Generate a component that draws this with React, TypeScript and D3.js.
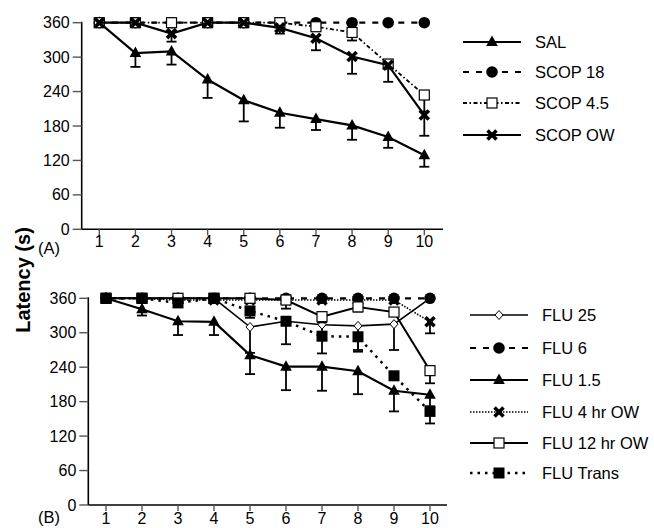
import React from 'react';
import * as d3 from 'd3';

// days on the x axis and y ticks
const days = [1, 2, 3, 4, 5, 6, 7, 8, 9, 10];
const yTicks = [0, 60, 120, 180, 240, 300, 360];

// panel A: means and lower end of error bars
const sal = [360, 307, 310, 261, 225, 203, 192, 181, 161, 129];
const salErr = [360, 283, 287, 229, 188, 177, 173, 156, 142, 109];
const scop18 = [360, 360, 360, 360, 360, 360, 360, 360, 360, 360];
const scop18Err = [360, 360, 360, 360, 360, 360, 360, 360, 360, 360];
const scop45 = [360, 360, 360, 360, 360, 360, 353, 343, 288, 234];
const scop45Err = [360, 360, 360, 360, 360, 360, 353, 329, 288, 205];
const scopOW = [360, 360, 341, 360, 360, 351, 333, 301, 286, 199];
const scopOWErr = [360, 360, 327, 360, 360, 341, 312, 271, 257, 163];

// panel B
const flu25 = [360, 360, 360, 360, 310, 320, 314, 312, 315, 360];
const flu25Err = [360, 360, 360, 360, 265, 320, 297, 270, 270, 360];
const flu6 = [360, 360, 360, 360, 360, 360, 360, 360, 360, 360];
const flu6Err = [360, 360, 360, 360, 360, 360, 360, 360, 360, 360];
const flu15 = [360, 341, 320, 319, 261, 241, 241, 233, 199, 192];
const flu15Err = [360, 330, 296, 296, 228, 200, 199, 193, 163, 172];
const flu4 = [360, 360, 357, 357, 357, 357, 357, 357, 357, 319];
const flu4Err = [360, 360, 357, 357, 357, 350, 357, 357, 357, 299];
const flu12 = [360, 360, 360, 360, 360, 357, 328, 345, 336, 234];
const flu12Err = [360, 360, 360, 360, 360, 342, 318, 337, 336, 212];
const fluTrans = [360, 360, 352, 360, 338, 320, 294, 293, 225, 163];
const fluTransErr = [360, 360, 352, 360, 326, 280, 264, 267, 225, 142];

type Marker = 'tri' | 'circle' | 'osq' | 'fsq' | 'x' | 'diamond';
type Series = {
  name: string;
  values: number[];
  err: number[];
  marker: Marker;
  dash: string;
  width: number;
};

const seriesA: Series[] = [
  { name: 'SAL', values: sal, err: salErr, marker: 'tri', dash: '', width: 2.2 },
  { name: 'SCOP 18', values: scop18, err: scop18Err, marker: 'circle', dash: '6,7', width: 2.2 },
  { name: 'SCOP 4.5', values: scop45, err: scop45Err, marker: 'osq', dash: '4,2.5,1.5,2.5', width: 1.8 },
  { name: 'SCOP OW', values: scopOW, err: scopOWErr, marker: 'x', dash: '', width: 2.2 },
];
const legendA = ['SAL', 'SCOP 18', 'SCOP 4.5', 'SCOP OW'];

// drawing order (later ones sit on top)
const seriesB: Series[] = [
  { name: 'FLU 25', values: flu25, err: flu25Err, marker: 'diamond', dash: '', width: 1.6 },
  { name: 'FLU 6', values: flu6, err: flu6Err, marker: 'circle', dash: '6,7', width: 2.2 },
  { name: 'FLU 4 hr OW', values: flu4, err: flu4Err, marker: 'x', dash: '1.5,1.5', width: 1.6 },
  { name: 'FLU 12 hr OW', values: flu12, err: flu12Err, marker: 'osq', dash: '', width: 2 },
  { name: 'FLU 1.5', values: flu15, err: flu15Err, marker: 'tri', dash: '', width: 2.2 },
  { name: 'FLU Trans', values: fluTrans, err: fluTransErr, marker: 'fsq', dash: '2.5,5', width: 2.5 },
];
const legendB = ['FLU 25', 'FLU 6', 'FLU 1.5', 'FLU 4 hr OW', 'FLU 12 hr OW', 'FLU Trans'];

const font = 'Liberation Sans, Arial, Helvetica, sans-serif';

function Mark({ type, x, y }: { type: Marker; x: number; y: number }) {
  switch (type) {
    case 'tri':
      return <path d={`M${x},${y - 6.5}L${x + 5.8},${y + 4}L${x - 5.8},${y + 4}Z`} fill="#000" />;
    case 'circle':
      return <circle cx={x} cy={y} r={5.8} fill="#000" />;
    case 'osq':
      return <rect x={x - 5} y={y - 5} width={10} height={10} fill="#fff" stroke="#000" strokeWidth={1.2} />;
    case 'fsq':
      return <rect x={x - 5.5} y={y - 5.5} width={11} height={11} fill="#000" />;
    case 'x':
      return (
        <g stroke="#000" strokeWidth={3.6}>
          <line x1={x - 4.5} y1={y - 4.5} x2={x + 4.5} y2={y + 4.5} />
          <line x1={x - 4.5} y1={y + 4.5} x2={x + 4.5} y2={y - 4.5} />
        </g>
      );
    case 'diamond':
      return <path d={`M${x},${y - 4.5}L${x + 4},${y}L${x},${y + 4.5}L${x - 4},${y}Z`} fill="#fff" stroke="#000" strokeWidth={1} />;
  }
  return null;
}

function Panel(props: {
  series: Series[];
  legend: string[];
  x0: number; x1: number; axisX: number; axisEnd: number;
  yTop: number; yBottom: number;
  tag: string; tagY: number; labelY: number;
  legX0: number; legX1: number; legY: number[];
}) {
  const p = props;
  const x = d3.scaleLinear().domain([1, 10]).range([p.x0, p.x1]);
  const y = d3.scaleLinear().domain([0, 360]).range([p.yBottom, p.yTop]);
  const line = d3.line<number>().x((_, i) => x(days[i])).y(v => y(v));
  const byName = new Map(p.series.map(s => [s.name, s]));
  return (
    <g fontFamily={font}>
      {/* axes */}
      <line x1={p.axisX} x2={p.axisX} y1={p.yTop - 1} y2={p.yBottom} stroke="#000" strokeWidth={1.6} />
      <line x1={p.axisX} x2={p.axisEnd} y1={p.yBottom} y2={p.yBottom} stroke="#000" strokeWidth={1.6} />
      {yTicks.map(t => (
        <g key={t}>
          <line x1={p.axisX - 9} x2={p.axisX} y1={y(t)} y2={y(t)} stroke="#555" strokeWidth={1.4} />
          <text x={p.axisX - 12} y={y(t)} dy="0.35em" textAnchor="end" fontSize={16}>{t}</text>
        </g>
      ))}
      {days.map(d => (
        <g key={d}>
          <line x1={x(d)} x2={x(d)} y1={p.yBottom} y2={p.yBottom + 6} stroke="#555" strokeWidth={1.4} />
          <text x={x(d)} y={p.labelY} textAnchor="middle" fontSize={16}>{d}</text>
        </g>
      ))}
      <text x={38} y={p.tagY} fontSize={16.5}>{p.tag}</text>

      {/* data */}
      {p.series.map(s => (
        <g key={s.name}>
          {s.values.map((v, i) =>
            v - s.err[i] > 1 ? (
              <g key={i} stroke="#000" strokeWidth={1.8}>
                <line x1={x(days[i])} x2={x(days[i])} y1={y(v)} y2={y(s.err[i])} />
                <line x1={x(days[i]) - 5} x2={x(days[i]) + 5} y1={y(s.err[i])} y2={y(s.err[i])} />
              </g>
            ) : null
          )}
          <path d={line(s.values) || ''} fill="none" stroke="#000" strokeWidth={s.width} strokeDasharray={s.dash} />
          {s.values.map((v, i) => <Mark key={i} type={s.marker} x={x(days[i])} y={y(v)} />)}
        </g>
      ))}

      {/* legend */}
      {p.legend.map((name, i) => {
        const s = byName.get(name)!;
        const ly = p.legY[i];
        return (
          <g key={name}>
            <line x1={p.legX0} x2={p.legX1} y1={ly} y2={ly} stroke="#000" strokeWidth={s.width} strokeDasharray={s.dash} />
            <Mark type={s.marker} x={(p.legX0 + p.legX1) / 2} y={ly} />
            <text x={p.legX1 + 14} y={ly} dy="0.36em" fontSize={16.5}>{name}</text>
          </g>
        );
      })}
    </g>
  );
}

export default function App() {
  return (
    <svg width={654} height={528} style={{ position: 'absolute', left: 0, top: 0, background: '#fff' }}>
      <rect width={654} height={528} fill="#fff" />
      <Panel series={seriesA} legend={legendA}
        x0={99.3} x1={424.3} axisX={81.7} axisEnd={443}
        yTop={22.7} yBottom={229.3}
        tag="(A)" tagY={254} labelY={246.5}
        legX0={463} legX1={521} legY={[42, 72, 103, 135]} />
      <Panel series={seriesB} legend={legendB}
        x0={106} x1={430} axisX={88.3} axisEnd={447}
        yTop={298.3} yBottom={505}
        tag="(B)" tagY={523} labelY={524}
        legX0={470} legX1={528} legY={[315, 348, 380, 412, 443, 473]} />
      <text transform="translate(30,280) rotate(-90)" textAnchor="middle" fontFamily={font}
        fontWeight="bold" fontSize={20}>Latency (s)</text>
    </svg>
  );
}
